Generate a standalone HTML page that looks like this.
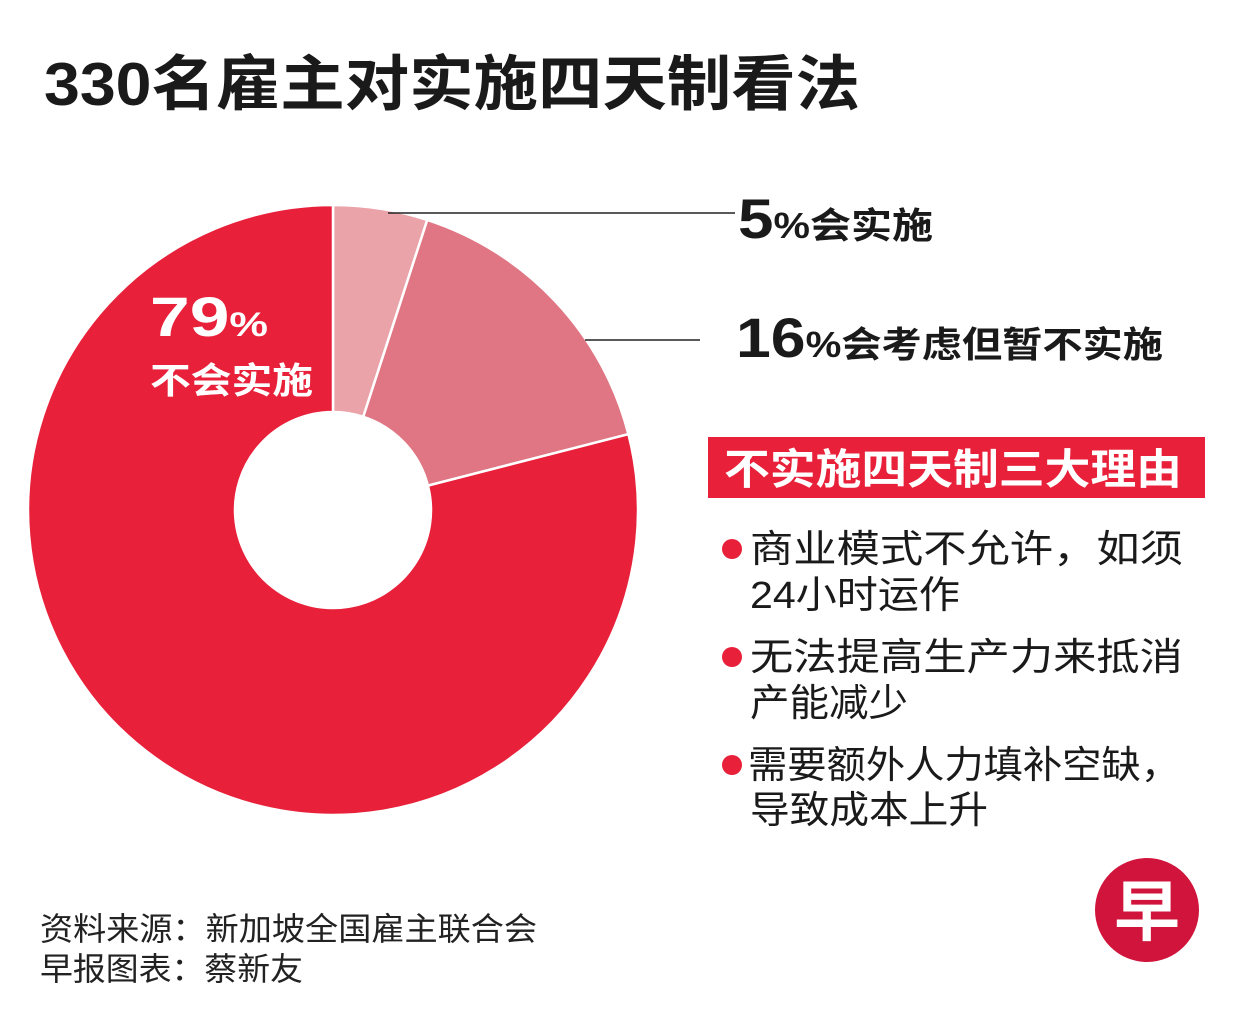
<!DOCTYPE html>
<html><head><meta charset="utf-8"><style>
body{margin:0;background:#fff;}
svg text{font-family:"Liberation Sans","Noto Sans CJK SC",sans-serif;}
</style></head><body>
<svg width="1251" height="1013" viewBox="0 0 1251 1013">
<rect width="1251" height="1013" fill="#fff"/>
<text x="44" y="105" font-size="60" font-weight="bold" fill="#1a1a1a" textLength="816" lengthAdjust="spacingAndGlyphs">330名雇主对实施四天制看法</text>
<g id="donut"></g>
<line x1="388" y1="213" x2="735" y2="213" stroke="#222" stroke-width="1.5"/>
<line x1="585" y1="340" x2="700" y2="340" stroke="#222" stroke-width="1.5"/>
<text x="738" y="238" font-weight="bold" fill="#1a1a1a" textLength="195" lengthAdjust="spacingAndGlyphs"><tspan font-size="56">5</tspan><tspan font-size="36">%会实施</tspan></text>
<text x="736" y="357" font-weight="bold" fill="#1a1a1a" textLength="427" lengthAdjust="spacingAndGlyphs"><tspan font-size="56">16</tspan><tspan font-size="36">%会考虑但暂不实施</tspan></text>
<text x="150" y="336" font-weight="bold" fill="#fff" textLength="118" lengthAdjust="spacingAndGlyphs"><tspan font-size="56">79</tspan><tspan font-size="34">%</tspan></text>
<text x="150" y="393" font-size="36" font-weight="bold" fill="#fff" textLength="163" lengthAdjust="spacingAndGlyphs">不会实施</text>
<rect x="708" y="437" width="497" height="61" fill="#e8203a"/>
<text x="724" y="484" font-size="42" font-weight="bold" fill="#fff" textLength="458" lengthAdjust="spacingAndGlyphs">不实施四天制三大理由</text>
<g font-size="38" fill="#1a1a1a">
<circle cx="732" cy="549" r="10" fill="#e8203a"/>
<text x="750" y="562" textLength="433" lengthAdjust="spacingAndGlyphs">商业模式不允许，如须</text>
<text x="750" y="608" textLength="210" lengthAdjust="spacingAndGlyphs">24小时运作</text>
<circle cx="732" cy="657" r="10" fill="#e8203a"/>
<text x="750" y="670" textLength="433" lengthAdjust="spacingAndGlyphs">无法提高生产力来抵消</text>
<text x="750" y="716" textLength="158" lengthAdjust="spacingAndGlyphs">产能减少</text>
<circle cx="732" cy="765" r="10" fill="#e8203a"/>
<text x="748" y="778" textLength="432" lengthAdjust="spacingAndGlyphs">需要额外人力填补空缺，</text>
<text x="750" y="823" textLength="238" lengthAdjust="spacingAndGlyphs">导致成本上升</text>
</g>
<text x="40" y="940" font-size="32" fill="#222" textLength="497" lengthAdjust="spacingAndGlyphs">资料来源：新加坡全国雇主联合会</text>
<text x="40" y="980" font-size="32" fill="#222" textLength="263" lengthAdjust="spacingAndGlyphs">早报图表：蔡新友</text>
<circle cx="1147" cy="910" r="52" fill="#d0143c"/>
<text x="1147" y="935" font-size="66" font-weight="bold" fill="#fff" text-anchor="middle">早</text>
</svg>
<script>
const categories = ["会实施", "会考虑但暂不实施", "不会实施"];
const values = [5, 16, 79];
const colors = ["#eba3aa", "#e07583", "#e8203a"];
const cx = 333, cy = 510, R = 305, r = 98;
const g = document.getElementById('donut');
const total = values.reduce((a, b) => a + b, 0);
function pt(a, rad) { return [cx + rad * Math.sin(a), cy - rad * Math.cos(a)]; }
let acc = 0;
values.forEach((v, i) => {
  const a0 = acc / total * 2 * Math.PI; acc += v;
  const a1 = acc / total * 2 * Math.PI;
  const big = (a1 - a0) > Math.PI ? 1 : 0;
  const [x0, y0] = pt(a0, R), [x1, y1] = pt(a1, R);
  const [x2, y2] = pt(a1, r), [x3, y3] = pt(a0, r);
  const p = document.createElementNS('http://www.w3.org/2000/svg', 'path');
  p.setAttribute('d', `M${x0},${y0}A${R},${R} 0 ${big} 1 ${x1},${y1}L${x2},${y2}A${r},${r} 0 ${big} 0 ${x3},${y3}Z`);
  p.setAttribute('fill', colors[i]);
  p.setAttribute('stroke', '#fff');
  p.setAttribute('stroke-width', '2.5');
  
  
  g.appendChild(p);
});
</script>
</body></html>
